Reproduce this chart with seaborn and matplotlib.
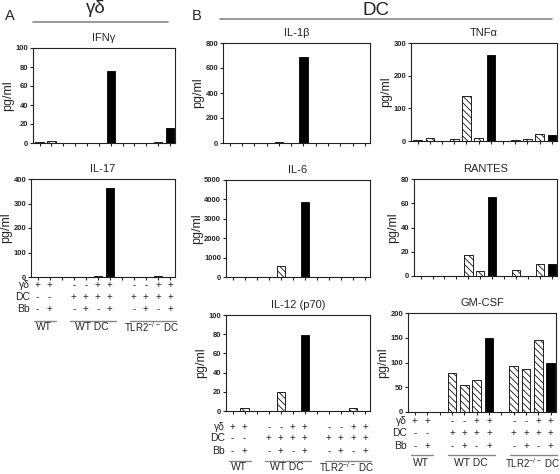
import matplotlib
matplotlib.use("Agg")
import matplotlib.pyplot as plt
from matplotlib.lines import Line2D
from matplotlib.transforms import offset_copy
import numpy as np
import pandas as pd
import seaborn as sns

# ---------------- data ----------------
slots = ["s0", "s1", "g1", "s3", "s4", "s5", "s6", "g2", "s8", "s9", "s10", "s11"]
gap_slots = ["g1", "g2"]
black_slots = ["s6", "s11"]

gd_row = ["+", "+", "", "-", "-", "+", "+", "", "-", "-", "+", "+"]
dc_row = ["-", "-", "", "+", "+", "+", "+", "", "+", "+", "+", "+"]
bb_row = ["-", "+", "", "-", "+", "-", "+", "", "-", "+", "-", "+"]
row_names = ["γδ", "DC", "Bb"]
group_labels = ["WT", "WT DC", r"TLR2$^{\mathregular{-/-}}$ DC"]
group_spans = [(0, 1), (3, 6), (8, 11)]

ifng = [1, 2, 0, 0, 0, 0, 76, 0, 0, 0, 1, 16]
il17 = [2, 2, 0, 2, 2, 3, 365, 0, 2, 2, 4, 2]
il1b = [0, 0, 0, 0, 8, 0, 685, 0, 0, 0, 0, 0]
il6 = [0, 0, 0, 0, 560, 0, 3850, 0, 0, 0, 0, 0]
il12 = [0, 3, 0, 0, 20, 0, 79, 0, 0, 0, 3, 0]
tnfa = [3, 8, 0, 5, 139, 10, 263, 0, 3, 5, 20, 18]
rantes = [0, 0, 0, 0, 17, 4, 65, 0, 5, 0, 10, 10]
gmcsf = [0, 0, 0, 78, 54, 64, 149, 0, 92, 86, 145, 99]

# ---------------- style ----------------
sns.set_style("ticks")
plt.rcParams['font.family'] = ['Liberation Sans', 'DejaVu Sans']
plt.rcParams['mathtext.fontset'] = 'custom'
plt.rcParams['mathtext.rm'] = 'Liberation Sans'
plt.rcParams['hatch.linewidth'] = 0.55
plt.rcParams['hatch.color'] = 'black'

W, H = 560, 474
fig = plt.figure(figsize=(W / 100, H / 100), dpi=100)


def add_ax(x1, y1, x2, y2):
    return fig.add_axes([x1 / W, 1 - y2 / H, (x2 - x1) / W, (y2 - y1) / H])


panels = [
    ("IFNγ", ifng, 100, 20, (33, 48, 175, 143), None),
    ("IL-17", il17, 400, 100, (31, 179, 175, 277), (8, 20, 32, 44, 50)),
    ("IL-1β", il1b, 800, 200, (223, 43, 370, 143), None),
    ("IL-6", il6, 5000, 1000, (226, 180, 370, 277), None),
    ("IL-12 (p70)", il12, 100, 20, (226, 315, 370, 411), (16, 27, 40, 50, 56)),
    ("TNFα", tnfa, 300, 100, (411, 43, 557, 141), None),
    ("RANTES", rantes, 80, 20, (414, 179, 557, 276), None),
    ("GM-CSF", gmcsf, 200, 50, (408, 313, 556, 412), (9, 21, 34, 43, 51)),
]

for title, vals, ymax, ystep, rect, table in panels:
    ax = add_ax(*rect)
    df = pd.DataFrame({"slot": slots, "value": vals})
    sns.barplot(data=df, x="slot", y="value", order=slots, color="white",
                edgecolor="black", linewidth=0.6, width=0.7, ax=ax)
    for p in ax.patches:
        idx = int(round(p.get_x() + p.get_width() / 2))
        s = slots[idx]
        if s in gap_slots:
            p.set_visible(False)
        elif s in black_slots:
            p.set_facecolor("black")
            p.set_hatch(None)
        else:
            p.set_facecolor("white")
            p.set_hatch("\\\\\\\\\\")
    ax.set_xlim(-0.55, 11.42)
    ax.set_ylim(0, ymax)
    ax.set_yticks(np.arange(0, ymax + 1, ystep))
    ax.set_xticks(range(12))
    ax.set_xticklabels([])
    ax.set_xlabel("")
    ax.set_ylabel("pg/ml", fontsize=9, labelpad=1)
    ax.tick_params(axis="y", labelsize=5.5, length=2.5, width=0.8, pad=1)
    ax.tick_params(axis="x", length=2.5, width=0.8)
    for lab in ax.get_yticklabels():
        lab.set_fontweight("bold")
    for side in ["left", "bottom", "top", "right"]:
        ax.spines[side].set_visible(True)
        ax.spines[side].set_linewidth(0.8)
        ax.spines[side].set_color("#222222")
    ax.set_title(title, fontsize=8, pad=5)

    if table is not None:
        rows = [gd_row, dc_row, bb_row]
        for r, (name, row) in enumerate(zip(row_names, rows)):
            off = -table[r]
            ax.annotate(name, xy=(0, 0), xycoords="axes fraction",
                        xytext=(-1, off), textcoords="offset pixels",
                        ha="right", va="center", fontsize=7.5,
                        annotation_clip=False)
            for i, sgn in enumerate(row):
                if sgn:
                    ax.annotate(sgn, xy=(i, 0), xycoords=("data", "axes fraction"),
                                xytext=(0, off), textcoords="offset pixels",
                                ha="center", va="center", fontsize=7,
                                annotation_clip=False)
        for lab, (a, b) in zip(group_labels, group_spans):
            line = Line2D([a - 0.3, b + 0.5], [0, 0], color="#888888", lw=1.0,
                          clip_on=False)
            line.set_transform(offset_copy(ax.get_xaxis_transform(), fig=fig,
                                           x=0, y=-table[3], units="dots"))
            ax.add_line(line)
            fs = 7 if "TLR2" in lab else 7.5
            ax.annotate(lab, xy=((a + b) / 2, 0), xycoords=("data", "axes fraction"),
                        xytext=(0, -table[4]), textcoords="offset pixels",
                        ha="center", va="center", fontsize=fs,
                        annotation_clip=False)

# ---------------- headers ----------------
def fx(x):
    return x / W


def fy(y):
    return 1 - y / H


fig.text(fx(5), fy(20), "A", fontsize=10.5, va="baseline", ha="left")
fig.text(fx(96), fy(13), "γδ", fontsize=13.5, va="baseline", ha="center")
fig.add_artist(Line2D([fx(33), fx(168)], [fy(22), fy(22)], color="#888888", lw=1.2))

fig.text(fx(192), fy(20), "B", fontsize=10.5, va="baseline", ha="left")
fig.text(fx(376), fy(15), "DC", fontsize=13.5, va="baseline", ha="center")
fig.add_artist(Line2D([fx(220), fx(552)], [fy(19), fy(19)], color="#888888", lw=1.2))

fig.savefig("out.png", dpi=100)
